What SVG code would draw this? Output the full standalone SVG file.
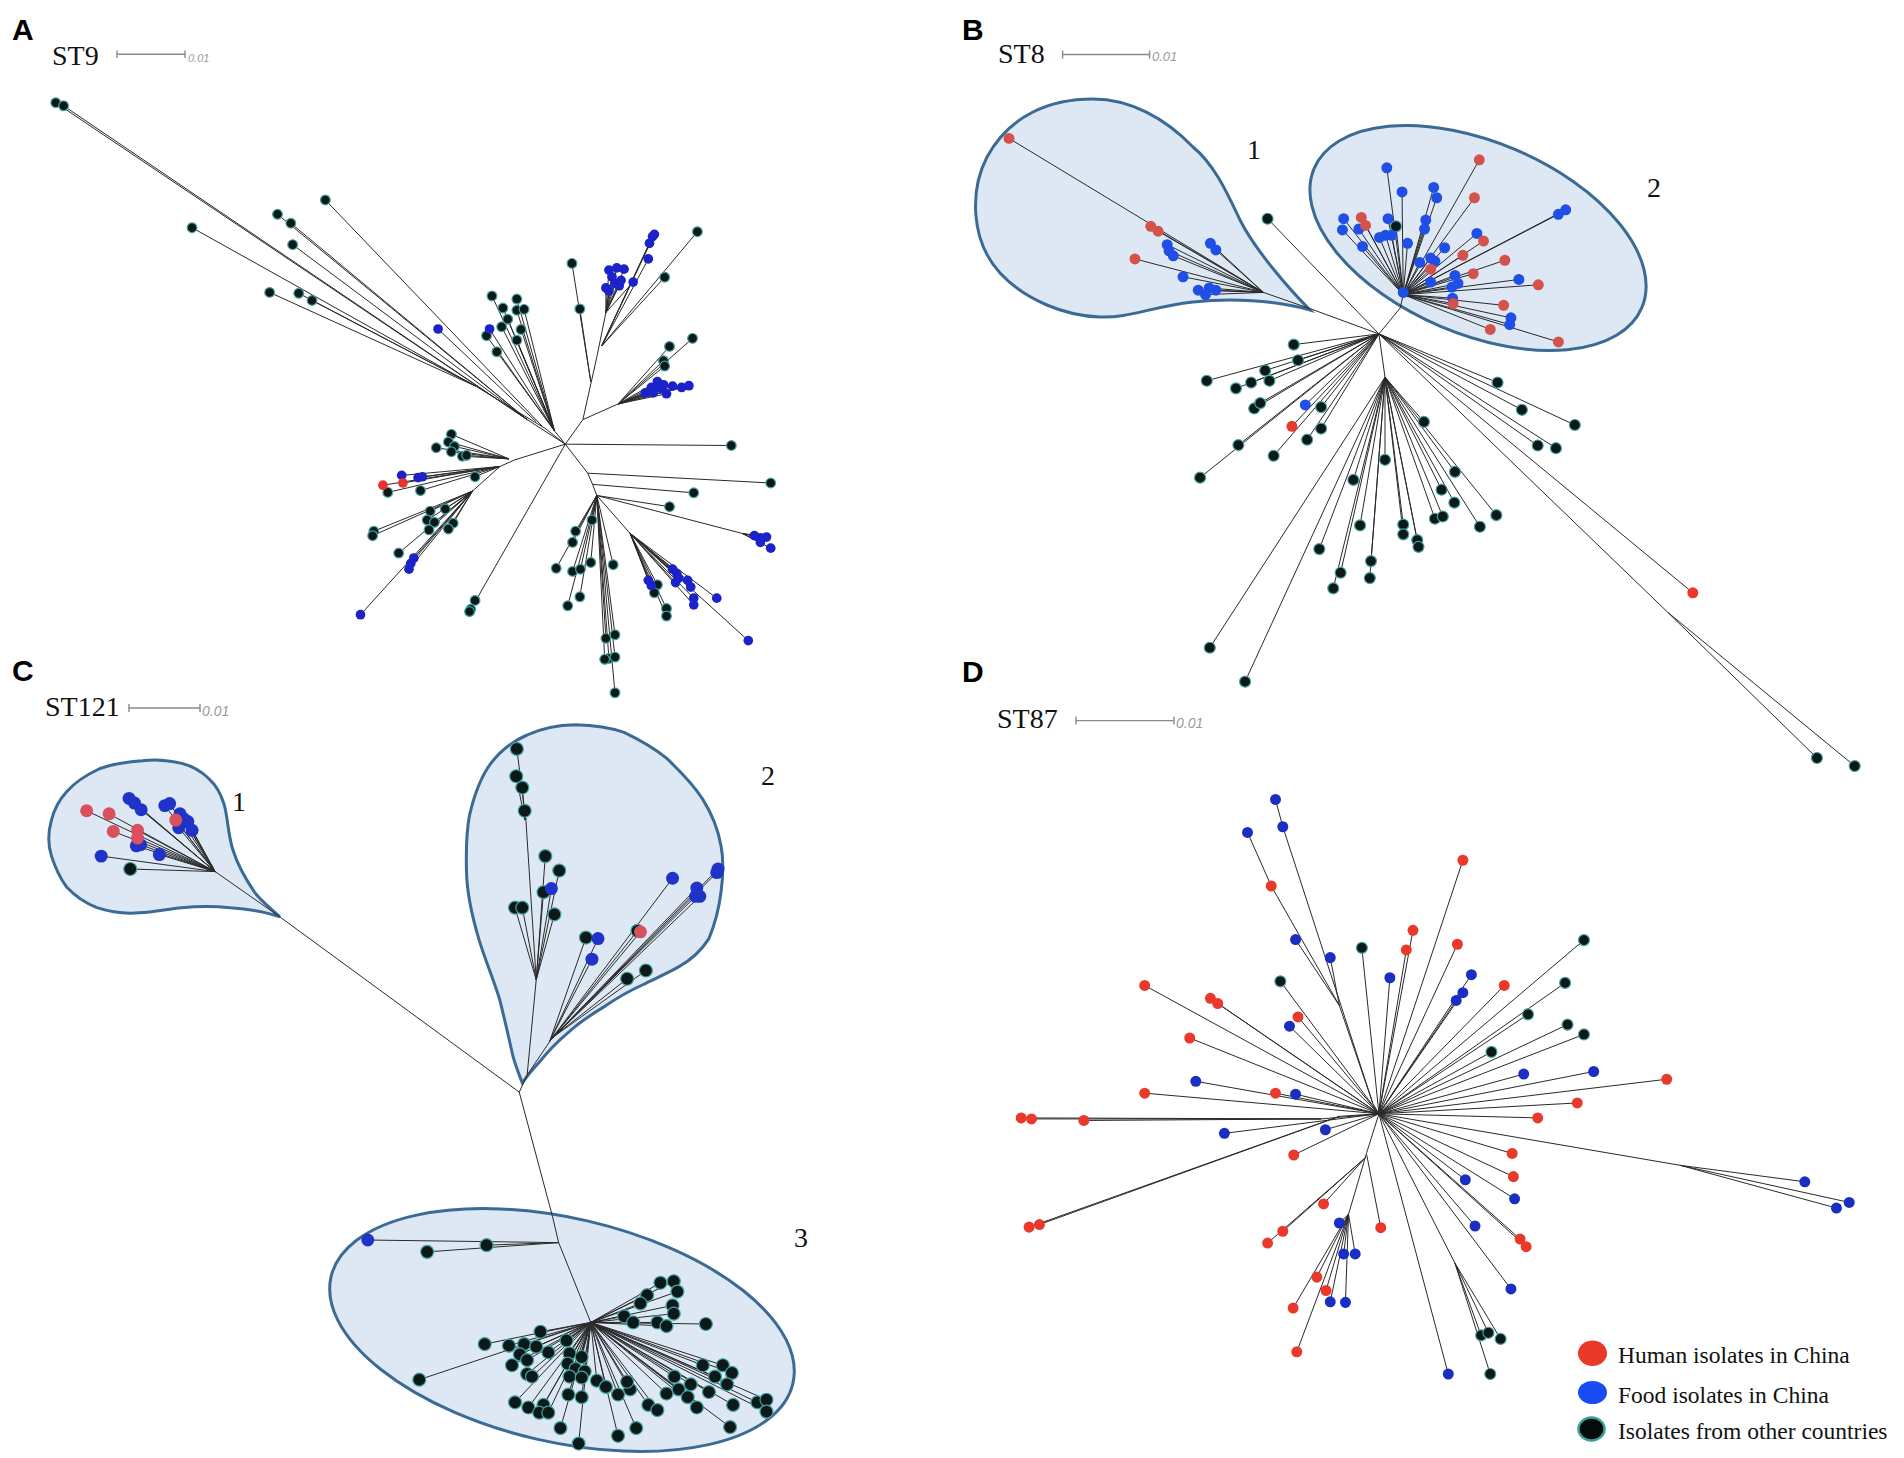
<svg xmlns="http://www.w3.org/2000/svg" width="1904" height="1458" viewBox="0 0 1904 1458">
<style>
.ln{fill:none;stroke:#2a2a2a;stroke-width:1;vector-effect:non-scaling-stroke}
.tr ellipse{vector-effect:non-scaling-stroke}
.k{fill:#0c1918;stroke:#45a3a0;stroke-width:1.2}
.bA{fill:#1b22c9}
.bB{fill:#1f4fe6}
.bC{fill:#1f33c9}
.bD{fill:#1a2ec4}
.rA{fill:#e8322a}
.rm{fill:#d4524c}
.rC{fill:#d9505f}
.rD{fill:#e8392a}
#tA ellipse{rx:8px;ry:10.9px}
#tB ellipse{rx:9px;ry:12.3px}
#tC ellipse{rx:10.7px;ry:12.6px}
#tD ellipse{rx:9px;ry:10.7px}
.pl{font-family:"Liberation Sans",Arial,sans-serif;font-weight:bold;font-size:30px;fill:#000}
.st{font-family:"Liberation Serif","Times New Roman",serif;font-size:28px;fill:#111}
.num{font-family:"Liberation Serif","Times New Roman",serif;font-size:28px;fill:#111}
.sc{fill:none;stroke:#8a8a8a;stroke-width:1.4}
.sct{font-family:"Liberation Sans",Arial,sans-serif;font-style:italic;font-size:13px;fill:#9a9a9a}
.cl{fill:#dde8f4;stroke:#3b6a94;stroke-width:3}
.lg{font-family:"Liberation Serif","Times New Roman",serif;font-size:23.5px;fill:#111}
</style>
<rect width="1904" height="1458" fill="#fff"/>

<!-- Panel A -->
<g id="panelA">
<text class="pl" x="12" y="40">A</text>
<text class="st" x="52" y="65">ST9</text>
<path class="sc" d="M117 54.3H185M117 50.5V58M185 50.5V58"/>
<text class="sct" x="188" y="61.5" style="font-size:11px">0.01</text>
<g id="tA" class="tr" transform="scale(0.6059 0.4464)">
<path class="ln" d="M92 230L870 940M105 237L870 940M458 480L870 940M480 500L870 940M483 548L870 940M870 940L933 995
M317 510L785 865M445 655L785 865M493 657L785 865M515 673L785 865M785 865L900 960L933 995
M537 448L895 955M723 737L885 945
M812 663L915 965M853 670L915 965M830 690L915 965M853 695L915 965M865 693L915 965M838 715L915 965M828 732L915 965M860 738L915 965M808 737L915 965M803 752L915 965M853 762L915 965M820 788L915 965M915 965L933 995
M933 995L962 940L985 800L1000 700M944 590L975 855M957 692L975 855
M1005 605L1000 700M1018 600L1000 700M1030 603L1000 700M1010 620L1000 700M1025 628L1000 700M1015 635L1000 700M1045 632L1000 700M1000 645L1000 700M1005 652L1000 700M1022 640L1000 700
M1070 580L993 775M1072 545L993 775M1077 530L993 775M1080 525L993 775M1151 519L993 775M1097 621L993 775
M962 940L1020 905M1143 758L1020 905M1105 776L1020 905M1095 808L1020 905M1097 820L1020 905M1065 880L1020 905M1075 868L1020 905M1085 855L1020 905M1090 870L1020 905M1100 882L1020 905M1110 865L1020 905M1125 868L1020 905M1137 864L1020 905M1078 880L1020 905M1095 862L1020 905
M933 995L1207 998M933 995L970 1060L1272 1082M970 1060L978 1085L1145 1104M978 1085L985 1110L1105 1135M985 1110L1225 1195M1245 1200L1225 1195M1255 1205L1225 1195M1265 1203L1225 1195M1255 1215L1225 1195M1272 1228L1225 1195
M950 1190L985 1110M945 1215L985 1110M977 1165L985 1110M918 1273L985 1110M945 1280L985 1110M958 1275L985 1110M975 1260L985 1110M1012 1265L985 1110M957 1337L985 1110M937 1357L985 1110M1000 1430L985 1110M1015 1422L985 1110M1005 1475L985 1110M1015 1472L985 1110M998 1477L985 1110M1015 1552L985 1110
M985 1110L1040 1195M1070 1300L1040 1195M1075 1312L1040 1195M1110 1275L1040 1195M1117 1285L1040 1195M1120 1295L1040 1195M1115 1305L1040 1195M1135 1300L1040 1195M1140 1315L1040 1195M1145 1340L1040 1195M1145 1355L1040 1195M1183 1340L1040 1195M1235 1435L1040 1195M1085 1310L1040 1195M1080 1328L1040 1195M1100 1363L1040 1195M1100 1380L1040 1195
M933 995L850 1030M745 973L840 1028M740 990L840 1028M750 1000L840 1028M720 1003L840 1028M745 1012L840 1028M763 1022L840 1028M770 1020L840 1028
M850 1030L825 1045M663 1065L825 1045M690 1070L825 1045M697 1068L825 1045M632 1087L825 1045M665 1082L825 1045M640 1103L825 1045M694 1099L825 1045M784 1068L825 1045
M825 1045L780 1100M710 1145L780 1100M735 1140L780 1100M705 1165L780 1100M717 1170L780 1100M708 1187L780 1100M748 1172L780 1100M740 1185L780 1100M617 1190L780 1100M615 1200L780 1100M658 1239L780 1100M683 1250L780 1100M678 1262L780 1100M675 1275L780 1100M595 1377L780 1100
M933 995L780 1358M784 1345L780 1358M777 1365L780 1358M775 1370L780 1358"/>
<g class="k">
<ellipse cx="92" cy="230"/><ellipse cx="105" cy="237"/><ellipse cx="317" cy="510"/><ellipse cx="458" cy="480"/><ellipse cx="480" cy="500"/><ellipse cx="483" cy="548"/><ellipse cx="445" cy="655"/><ellipse cx="493" cy="657"/><ellipse cx="515" cy="673"/><ellipse cx="537" cy="448"/>
<ellipse cx="812" cy="663"/><ellipse cx="853" cy="670"/><ellipse cx="830" cy="690"/><ellipse cx="853" cy="695"/><ellipse cx="865" cy="693"/><ellipse cx="838" cy="715"/><ellipse cx="828" cy="732"/><ellipse cx="860" cy="738"/><ellipse cx="803" cy="752"/><ellipse cx="853" cy="762"/><ellipse cx="820" cy="788"/>
<ellipse cx="944" cy="590"/><ellipse cx="957" cy="692"/><ellipse cx="1151" cy="519"/><ellipse cx="1097" cy="621"/>
<ellipse cx="1143" cy="758"/><ellipse cx="1105" cy="776"/><ellipse cx="1095" cy="808"/><ellipse cx="1097" cy="820"/>
<ellipse cx="1207" cy="998"/><ellipse cx="1272" cy="1082"/><ellipse cx="1145" cy="1104"/><ellipse cx="1105" cy="1135"/>
<ellipse cx="950" cy="1190"/><ellipse cx="945" cy="1215"/><ellipse cx="977" cy="1165"/><ellipse cx="918" cy="1273"/><ellipse cx="945" cy="1280"/><ellipse cx="958" cy="1275"/><ellipse cx="975" cy="1260"/><ellipse cx="1012" cy="1265"/><ellipse cx="957" cy="1337"/><ellipse cx="937" cy="1357"/><ellipse cx="1000" cy="1430"/><ellipse cx="1015" cy="1422"/><ellipse cx="1005" cy="1475"/><ellipse cx="1015" cy="1472"/><ellipse cx="998" cy="1477"/><ellipse cx="1015" cy="1552"/>
<ellipse cx="1085" cy="1310"/><ellipse cx="1080" cy="1328"/><ellipse cx="1100" cy="1363"/><ellipse cx="1100" cy="1380"/>
<ellipse cx="745" cy="973"/><ellipse cx="740" cy="990"/><ellipse cx="750" cy="1000"/><ellipse cx="720" cy="1003"/><ellipse cx="745" cy="1012"/><ellipse cx="763" cy="1022"/><ellipse cx="770" cy="1020"/>
<ellipse cx="640" cy="1103"/><ellipse cx="694" cy="1099"/><ellipse cx="784" cy="1068"/>
<ellipse cx="710" cy="1145"/><ellipse cx="735" cy="1140"/><ellipse cx="705" cy="1165"/><ellipse cx="717" cy="1170"/><ellipse cx="708" cy="1187"/><ellipse cx="748" cy="1172"/><ellipse cx="740" cy="1185"/><ellipse cx="617" cy="1190"/><ellipse cx="615" cy="1200"/><ellipse cx="658" cy="1239"/>
<ellipse cx="784" cy="1345"/><ellipse cx="777" cy="1365"/><ellipse cx="775" cy="1370"/>
</g>
<g class="bA">
<ellipse cx="723" cy="737"/><ellipse cx="808" cy="737"/>
<ellipse cx="1070" cy="580"/><ellipse cx="1072" cy="545"/><ellipse cx="1077" cy="530"/><ellipse cx="1080" cy="525"/><ellipse cx="1005" cy="605"/><ellipse cx="1018" cy="600"/><ellipse cx="1030" cy="603"/><ellipse cx="1010" cy="620"/><ellipse cx="1025" cy="628"/><ellipse cx="1015" cy="635"/><ellipse cx="1045" cy="632"/><ellipse cx="1000" cy="645"/><ellipse cx="1005" cy="652"/><ellipse cx="1022" cy="640"/>
<ellipse cx="1065" cy="880"/><ellipse cx="1075" cy="868"/><ellipse cx="1085" cy="855"/><ellipse cx="1090" cy="870"/><ellipse cx="1100" cy="882"/><ellipse cx="1110" cy="865"/><ellipse cx="1125" cy="868"/><ellipse cx="1137" cy="864"/><ellipse cx="1078" cy="880"/><ellipse cx="1095" cy="862"/>
<ellipse cx="1245" cy="1200"/><ellipse cx="1255" cy="1205"/><ellipse cx="1265" cy="1203"/><ellipse cx="1255" cy="1215"/><ellipse cx="1272" cy="1228"/>
<ellipse cx="1070" cy="1300"/><ellipse cx="1075" cy="1312"/><ellipse cx="1110" cy="1275"/><ellipse cx="1117" cy="1285"/><ellipse cx="1120" cy="1295"/><ellipse cx="1115" cy="1305"/><ellipse cx="1135" cy="1300"/><ellipse cx="1140" cy="1315"/><ellipse cx="1145" cy="1340"/><ellipse cx="1145" cy="1355"/><ellipse cx="1183" cy="1340"/><ellipse cx="1235" cy="1435"/>
<ellipse cx="663" cy="1065"/><ellipse cx="690" cy="1070"/><ellipse cx="697" cy="1068"/>
<ellipse cx="683" cy="1250"/><ellipse cx="678" cy="1262"/><ellipse cx="675" cy="1275"/><ellipse cx="595" cy="1377"/>
</g>
<g class="rA"><ellipse cx="632" cy="1087"/><ellipse cx="665" cy="1082"/></g>
</g>
</g>

<!-- Panel B -->
<g id="panelB">
<text class="pl" x="962" y="40">B</text>
<text class="st" x="998" y="62.5">ST8</text>
<path class="sc" d="M1062.6 54.5H1149.6M1062.6 50.5V58.5M1149.6 50.5V58.5"/>
<text class="sct" x="1152" y="61">0.01</text>
<path id="B-cluster1" class="cl" d="M1310 310C1290 290 1255 250 1240 220C1228 195 1215 165 1193 147C1165 118 1130 99 1093 99C1050 99 1010 115 987 157C970 190 970 240 1000 273C1025 300 1065 316 1100 317C1130 318 1150 307 1193 302C1230 298 1275 300 1310 310Z"/>
<ellipse id="B-cluster2" class="cl" cx="1478" cy="238" rx="178" ry="96" transform="rotate(23 1478 238)"/>
<text class="num" x="1247" y="158.5">1</text>
<text class="num" x="1647" y="196.5">2</text>
<g id="tB" class="tr" transform="translate(950 0) scale(0.6084 0.4464)">
<path class="ln" d="M705 748L595 693L515 655M97 310L515 655M330 507L515 655M342 518L515 655M304 580L515 655M357 548L515 655M360 562L515 655M367 573L515 655M428 545L515 655M437 560L515 655M383 620L515 655M408 650L515 655M420 660L515 655M437 650L515 655M426 645L515 655
M522 490L705 748
M705 748L740 690L745 660M718 376L745 660M743 430L745 660M795 420L745 660M800 443L745 660M647 490L745 660M720 490L745 660M645 515L745 660M672 513L745 660M706 532L745 660M716 527L745 660M726 527L745 660M752 545L745 660M678 552L745 660M782 493L745 660M780 513L745 660M813 555L745 660M1000 480L745 660M1012 470L745 660M772 588L745 660M790 578L745 660M797 585L745 660M790 632L745 660M830 617L745 660M835 635L745 660M825 643L745 660M826 668L745 660M935 626L745 660M922 712L745 660M920 727L745 660M866 523L745 660M870 358L745 660M862 443L745 660M676 487L745 660M683 505L745 660M877 540L745 660M843 572L745 660M912 583L745 660M860 613L745 660M967 638L745 660M910 684L745 660M888 738L745 660M1000 766L745 660M827 680L745 660M790 603L745 660M733 507L745 660
M565 772L705 748M572 807L705 748M518 830L705 748M422 853L705 748M470 870L705 748M495 857L705 748M525 853L705 748M500 915L705 748M510 903L705 748M610 912L705 748M584 907L705 748M610 960L705 748M562 955L705 748M587 985L705 748M474 997L705 748M532 1021L705 748M411 1070L705 748
M900 857L705 748M940 918L705 748M1027 952L705 748M966 998L705 748M996 1004L705 748
M705 748L715 845M779 945L715 845M715 1030L715 845M663 1075L715 845M830 1057L715 845M808 1097L715 845M829 1126L715 845M898 1154L715 845M871 1180L715 845M797 1162L715 845M810 1157L715 845M745 1175L715 845M745 1197L715 845M768 1210L715 845M770 1225L715 845M674 1177L715 845M607 1230L715 845M692 1257L715 845M642 1283L715 845M690 1295L715 845M630 1318L715 845M427 1451L715 845M485 1527L715 845
M1221 1328L705 748M1425 1698L1180 1372L705 748M1487 1716L1180 1372"/>
<g class="k">
<ellipse cx="522" cy="490"/><ellipse cx="733" cy="507"/>
<ellipse cx="565" cy="772"/><ellipse cx="572" cy="807"/><ellipse cx="518" cy="830"/><ellipse cx="422" cy="853"/><ellipse cx="470" cy="870"/><ellipse cx="495" cy="857"/><ellipse cx="525" cy="853"/><ellipse cx="500" cy="915"/><ellipse cx="510" cy="903"/><ellipse cx="610" cy="912"/><ellipse cx="610" cy="960"/><ellipse cx="587" cy="985"/><ellipse cx="474" cy="997"/><ellipse cx="532" cy="1021"/><ellipse cx="411" cy="1070"/>
<ellipse cx="900" cy="857"/><ellipse cx="940" cy="918"/><ellipse cx="1027" cy="952"/><ellipse cx="966" cy="998"/><ellipse cx="996" cy="1004"/>
<ellipse cx="779" cy="945"/><ellipse cx="715" cy="1030"/><ellipse cx="663" cy="1075"/><ellipse cx="830" cy="1057"/><ellipse cx="808" cy="1097"/><ellipse cx="829" cy="1126"/><ellipse cx="898" cy="1154"/><ellipse cx="871" cy="1180"/><ellipse cx="797" cy="1162"/><ellipse cx="810" cy="1157"/><ellipse cx="745" cy="1175"/><ellipse cx="745" cy="1197"/><ellipse cx="768" cy="1210"/><ellipse cx="770" cy="1225"/><ellipse cx="674" cy="1177"/><ellipse cx="607" cy="1230"/><ellipse cx="692" cy="1257"/><ellipse cx="642" cy="1283"/><ellipse cx="690" cy="1295"/><ellipse cx="630" cy="1318"/><ellipse cx="427" cy="1451"/><ellipse cx="485" cy="1527"/><ellipse cx="1425" cy="1698"/><ellipse cx="1487" cy="1716"/>
</g>
<g class="bB">
<ellipse cx="357" cy="548"/><ellipse cx="360" cy="562"/><ellipse cx="367" cy="573"/><ellipse cx="428" cy="545"/><ellipse cx="437" cy="560"/><ellipse cx="383" cy="620"/><ellipse cx="408" cy="650"/><ellipse cx="420" cy="660"/><ellipse cx="437" cy="650"/><ellipse cx="426" cy="645"/>
<ellipse cx="718" cy="376"/><ellipse cx="743" cy="430"/><ellipse cx="795" cy="420"/><ellipse cx="800" cy="443"/><ellipse cx="647" cy="490"/><ellipse cx="720" cy="490"/><ellipse cx="645" cy="515"/><ellipse cx="672" cy="513"/><ellipse cx="706" cy="532"/><ellipse cx="716" cy="527"/><ellipse cx="726" cy="527"/><ellipse cx="752" cy="545"/><ellipse cx="678" cy="552"/><ellipse cx="782" cy="493"/><ellipse cx="780" cy="513"/><ellipse cx="813" cy="555"/><ellipse cx="1000" cy="480"/><ellipse cx="1012" cy="470"/><ellipse cx="772" cy="588"/><ellipse cx="790" cy="578"/><ellipse cx="797" cy="585"/><ellipse cx="790" cy="632"/><ellipse cx="830" cy="617"/><ellipse cx="835" cy="635"/><ellipse cx="825" cy="643"/><ellipse cx="826" cy="668"/><ellipse cx="935" cy="626"/><ellipse cx="922" cy="712"/><ellipse cx="920" cy="727"/><ellipse cx="745" cy="655"/><ellipse cx="866" cy="523"/>
<ellipse cx="584" cy="907"/>
</g>
<g class="rm">
<ellipse cx="97" cy="310"/><ellipse cx="330" cy="507"/><ellipse cx="342" cy="518"/><ellipse cx="304" cy="580"/>
<ellipse cx="870" cy="358"/><ellipse cx="862" cy="443"/><ellipse cx="676" cy="487"/><ellipse cx="683" cy="505"/><ellipse cx="877" cy="540"/><ellipse cx="843" cy="572"/><ellipse cx="912" cy="583"/><ellipse cx="860" cy="613"/><ellipse cx="967" cy="638"/><ellipse cx="910" cy="684"/><ellipse cx="888" cy="738"/><ellipse cx="1000" cy="766"/><ellipse cx="827" cy="680"/><ellipse cx="790" cy="603"/>
</g>
<g class="rD"><ellipse cx="562" cy="955"/><ellipse cx="1221" cy="1328"/></g>
</g>
</g>

<!-- Panel C -->
<g id="panelC">
<text class="pl" x="12" y="681">C</text>
<text class="st" x="45" y="715.5">ST121</text>
<path class="sc" d="M129 708H200M129 704V712M200 704V712"/>
<text class="sct" x="202" y="716" style="font-size:14px">0.01</text>
<path id="C-cluster1" class="cl" d="M279.9 916.9C268 906 260 900 254.5 892.2C245 878 238 866 233.3 851C228 836 228 818 224.2 804.6C221 794 216 785 209 778.8C200 770 192 766 181.8 763.4C168 760 155 759 142.4 760.8C127 762 112 764 100 768.5C86 775 75 782 66.6 791.7C58 801 54 810 51.5 820C48 832 48 845 51.5 856.1C55 867 60 878 66.6 887C75 896 85 903 97 907.7C110 912 125 914 139.4 912.8C154 912 168 909 181.8 907.7C198 906 214 906 230.2 907.7C248 909 264 911 279.9 916.9Z"/>
<path id="C-cluster2" class="cl" d="M522.3 1082.9C518 1072 514 1062 512 1052C508 1034 504 1017 499.9 1000.4C494 980 485 960 478.7 938.6C472 916 467 894 466.5 871.6C466 852 466 833 469.6 814.9C474 796 480 778 490.8 763.4C501 750 513 741 527.1 735C542 728 559 725 575.6 724.7C592 725 609 727 624.1 732.4C640 740 654 748 666.5 758.2C680 771 693 784 702.8 799.4C712 814 718 829 721 845.8C724 861 723 877 721 892.2C719 908 715 924 708.9 938.6C701 951 691 960 678.6 966.9C666 974 654 979 642.3 985C629 991 617 998 605.9 1005.6C592 1014 580 1022 569.5 1031.3C558 1041 548 1051 539.3 1062.2C532 1070 527 1076 522.3 1082.9Z"/>
<ellipse id="C-cluster3" class="cl" cx="562" cy="1330" rx="237" ry="112" transform="rotate(13 562 1330)"/>
<text class="num" x="232" y="811">1</text>
<text class="num" x="761" y="785">2</text>
<text class="num" x="794" y="1247">3</text>
<g id="tC" class="tr" transform="translate(0 650) scale(0.6059 0.5153)">
<path class="ln" d="M857 858L462 518L355 430M143 312L355 430M180 318L355 430M187 352L355 430M227 350L355 430M227 365L355 430M290 330L355 430M213 288L355 430M222 297L355 430M233 310L355 430M272 302L355 430M280 298L355 430M297 318L355 430M303 327L355 430M310 333L355 430M317 350L355 430M295 345L355 430M167 400L355 430M225 380L355 430M232 378L355 430M263 397L355 430M215 425L355 430
M857 858L870 825L885 640L868 330L853 192M852 245L866 330M862 267L866 330M866 312L868 330
M900 400L885 640M923 428L885 640M910 463L885 640M897 470L885 640M850 500L885 640M862 500L885 640M915 513L885 640
M870 825L910 755M967 558L907 760M987 560L907 760M977 600L907 760M1057 547L910 755M1052 545L910 755M1110 443L910 755M1150 462L910 755M1155 478L910 755M1148 478L910 755M1185 425L910 755M1183 432L910 755M1035 638L912 752M1066 622L912 752
M857 858L912 1100L922 1150L975 1305M607 1145L922 1150M803 1155L922 1150M705 1168L922 1150
M1090 1228L975 1305M1112 1225L975 1305M1118 1245L975 1305M1068 1252L975 1305M1057 1268L975 1305M1110 1272L975 1305M1112 1288L975 1305M1030 1293L975 1305M1045 1305L975 1305M1085 1305L975 1305M1100 1312L975 1305M1165 1308L975 1305M892 1323L975 1305M800 1347L975 1305M840 1350L975 1305M865 1347L975 1305M885 1352L975 1305M905 1363L975 1305M935 1340L975 1305M940 1365L975 1305M960 1372L975 1305M858 1367L975 1305M845 1388L975 1305M870 1378L975 1305M937 1385L975 1305M950 1395L975 1305M965 1400L975 1305M870 1405L975 1305M878 1410L975 1305M940 1410L975 1305M960 1412L975 1305M985 1418L975 1305M692 1416L975 1305M1160 1388L975 1305M1193 1388L975 1305M1208 1403L975 1305M1180 1410L975 1305M1113 1410L975 1305M1140 1425L975 1305M1120 1435L975 1305M1170 1440L975 1305M1200 1425L975 1305M1100 1443L975 1305M1135 1450L975 1305M1150 1470L975 1305M1210 1465L975 1305M1250 1460L975 1305M1265 1455L975 1305M1265 1478L975 1305M1205 1508L975 1305M1040 1435L975 1305M1020 1445L975 1305M1070 1465L975 1305M1085 1475L975 1305M1050 1510L975 1305M1020 1525L975 1305M960 1450L975 1305M938 1445L975 1305M925 1510L975 1305M955 1540L975 1305M850 1460L975 1305M872 1470L975 1305M897 1465L975 1305M890 1480L975 1305M905 1480L975 1305M1000 1430L975 1305M1035 1420L975 1305"/>
<g class="k">
<ellipse cx="215" cy="425"/>
<ellipse cx="853" cy="192"/><ellipse cx="852" cy="245"/><ellipse cx="862" cy="267"/><ellipse cx="866" cy="312"/><ellipse cx="900" cy="400"/><ellipse cx="923" cy="428"/><ellipse cx="897" cy="470"/><ellipse cx="850" cy="500"/><ellipse cx="862" cy="500"/><ellipse cx="915" cy="513"/><ellipse cx="967" cy="558"/><ellipse cx="1035" cy="638"/><ellipse cx="1066" cy="622"/><ellipse cx="1052" cy="545"/>
<ellipse cx="803" cy="1155"/><ellipse cx="705" cy="1168"/>
<ellipse cx="1090" cy="1228"/><ellipse cx="1112" cy="1225"/><ellipse cx="1118" cy="1245"/><ellipse cx="1068" cy="1252"/><ellipse cx="1057" cy="1268"/><ellipse cx="1110" cy="1272"/><ellipse cx="1112" cy="1288"/><ellipse cx="1030" cy="1293"/><ellipse cx="1045" cy="1305"/><ellipse cx="1085" cy="1305"/><ellipse cx="1100" cy="1312"/><ellipse cx="1165" cy="1308"/><ellipse cx="892" cy="1323"/><ellipse cx="800" cy="1347"/><ellipse cx="840" cy="1350"/><ellipse cx="865" cy="1347"/><ellipse cx="885" cy="1352"/><ellipse cx="905" cy="1363"/><ellipse cx="935" cy="1340"/><ellipse cx="940" cy="1365"/><ellipse cx="960" cy="1372"/><ellipse cx="858" cy="1367"/><ellipse cx="845" cy="1388"/><ellipse cx="870" cy="1378"/><ellipse cx="937" cy="1385"/><ellipse cx="950" cy="1395"/><ellipse cx="965" cy="1400"/><ellipse cx="870" cy="1405"/><ellipse cx="878" cy="1410"/><ellipse cx="940" cy="1410"/><ellipse cx="960" cy="1412"/><ellipse cx="985" cy="1418"/><ellipse cx="692" cy="1416"/><ellipse cx="1160" cy="1388"/><ellipse cx="1193" cy="1388"/><ellipse cx="1208" cy="1403"/><ellipse cx="1180" cy="1410"/><ellipse cx="1113" cy="1410"/><ellipse cx="1140" cy="1425"/><ellipse cx="1120" cy="1435"/><ellipse cx="1170" cy="1440"/><ellipse cx="1200" cy="1425"/><ellipse cx="1100" cy="1443"/><ellipse cx="1135" cy="1450"/><ellipse cx="1150" cy="1470"/><ellipse cx="1210" cy="1465"/><ellipse cx="1250" cy="1460"/><ellipse cx="1265" cy="1455"/><ellipse cx="1265" cy="1478"/><ellipse cx="1205" cy="1508"/><ellipse cx="1040" cy="1435"/><ellipse cx="1020" cy="1445"/><ellipse cx="1070" cy="1465"/><ellipse cx="1085" cy="1475"/><ellipse cx="1050" cy="1510"/><ellipse cx="1020" cy="1525"/><ellipse cx="960" cy="1450"/><ellipse cx="938" cy="1445"/><ellipse cx="925" cy="1510"/><ellipse cx="955" cy="1540"/><ellipse cx="850" cy="1460"/><ellipse cx="872" cy="1470"/><ellipse cx="897" cy="1465"/><ellipse cx="890" cy="1480"/><ellipse cx="905" cy="1480"/><ellipse cx="1000" cy="1430"/><ellipse cx="1035" cy="1420"/>
</g>
<g class="bC">
<ellipse cx="213" cy="288"/><ellipse cx="222" cy="297"/><ellipse cx="233" cy="310"/><ellipse cx="272" cy="302"/><ellipse cx="280" cy="298"/><ellipse cx="297" cy="318"/><ellipse cx="303" cy="327"/><ellipse cx="310" cy="333"/><ellipse cx="317" cy="350"/><ellipse cx="295" cy="345"/><ellipse cx="167" cy="400"/><ellipse cx="225" cy="380"/><ellipse cx="232" cy="378"/><ellipse cx="263" cy="397"/>
<ellipse cx="910" cy="463"/><ellipse cx="987" cy="560"/><ellipse cx="977" cy="600"/><ellipse cx="1110" cy="443"/><ellipse cx="1150" cy="462"/><ellipse cx="1155" cy="478"/><ellipse cx="1148" cy="478"/><ellipse cx="1185" cy="425"/><ellipse cx="1183" cy="432"/>
<ellipse cx="607" cy="1145"/>
</g>
<g class="rC">
<ellipse cx="143" cy="312"/><ellipse cx="180" cy="318"/><ellipse cx="187" cy="352"/><ellipse cx="227" cy="350"/><ellipse cx="227" cy="365"/><ellipse cx="290" cy="330"/><ellipse cx="1057" cy="547"/>
</g>
</g>
</g>

<!-- Panel D -->
<g id="panelD">
<text class="pl" x="962" y="682">D</text>
<text class="st" x="997" y="728">ST87</text>
<path class="sc" d="M1076 720.6H1174M1076 716.6V724.6M1174 716.6V724.6"/>
<text class="sct" x="1176" y="728" style="font-size:14px">0.01</text>
<g id="tD" class="tr" transform="translate(950 650) scale(0.6084 0.5153)">
<path class="ln" d="M535 290L547 343L695 880L705 900M489 354L528 458L640 690L695 880M568 562L640 690M625 597L640 690
M843 408L705 900M761 544L705 900M750 582L705 900M834 571L705 900M677 578L705 900M723 636L705 900M857 630L705 900M843 665L705 900M832 680L705 900M911 651L705 900M1042 563L705 900M1011 646L705 900M950 707L705 900M1015 727L705 900M1042 746L705 900M890 780L705 900M943 823L705 900M1058 818L705 900M1178 833L705 900M1031 879L705 900M966 908L705 900
M320 651L705 900M428 676L705 900M440 686L705 900M394 753L705 900M543 643L705 900M572 712L705 900M558 730L705 900M404 837L705 900M320 860L705 900M535 860L705 900M568 862L705 900M451 938L705 900M617 931L705 900M565 980L705 900
M117 908L610 910L705 900M134 910L610 910M220 913L610 910M130 1120L640 905L705 900M147 1115L640 905
M705 900L685 975M614 1075L683 985M547 1128L683 985M522 1151L683 985M708 1121L685 980M685 975L655 1095M640 1112L655 1095M647 1172L655 1095M666 1172L655 1095M625 1265L655 1095M650 1266L655 1095M603 1217L655 1095M618 1243L655 1095M564 1277L655 1095M570 1362L655 1095
M924 977L705 900M926 1022L705 900M847 1028L705 900M928 1065L705 900M863 1118L705 900M937 1143L705 900M947 1158L705 900M922 1240L705 900M819 1405L705 900
M873 1330L830 1190L705 900M885 1325L830 1190M905 1337L830 1190M888 1405L830 1190
M1405 1032L1200 1000L705 900M1478 1072L1200 1000M1457 1083L1200 1000"/>
<g class="k">
<ellipse cx="677" cy="578"/><ellipse cx="1042" cy="563"/><ellipse cx="1011" cy="646"/><ellipse cx="950" cy="707"/><ellipse cx="1015" cy="727"/><ellipse cx="1042" cy="746"/><ellipse cx="890" cy="780"/><ellipse cx="543" cy="643"/><ellipse cx="873" cy="1330"/><ellipse cx="885" cy="1325"/><ellipse cx="905" cy="1337"/><ellipse cx="888" cy="1405"/>
</g>
<g class="bD">
<ellipse cx="535" cy="290"/><ellipse cx="547" cy="343"/><ellipse cx="489" cy="354"/><ellipse cx="568" cy="562"/><ellipse cx="625" cy="597"/><ellipse cx="723" cy="636"/><ellipse cx="857" cy="630"/><ellipse cx="843" cy="665"/><ellipse cx="832" cy="680"/><ellipse cx="943" cy="823"/><ellipse cx="1058" cy="818"/><ellipse cx="558" cy="730"/><ellipse cx="404" cy="837"/><ellipse cx="568" cy="862"/><ellipse cx="451" cy="938"/><ellipse cx="617" cy="931"/><ellipse cx="640" cy="1112"/><ellipse cx="647" cy="1172"/><ellipse cx="666" cy="1172"/><ellipse cx="625" cy="1265"/><ellipse cx="650" cy="1266"/><ellipse cx="847" cy="1028"/><ellipse cx="928" cy="1065"/><ellipse cx="863" cy="1118"/><ellipse cx="922" cy="1240"/><ellipse cx="819" cy="1405"/><ellipse cx="1405" cy="1032"/><ellipse cx="1478" cy="1072"/><ellipse cx="1457" cy="1083"/>
</g>
<g class="rD">
<ellipse cx="528" cy="458"/><ellipse cx="843" cy="408"/><ellipse cx="761" cy="544"/><ellipse cx="750" cy="582"/><ellipse cx="834" cy="571"/><ellipse cx="911" cy="651"/><ellipse cx="1178" cy="833"/><ellipse cx="1031" cy="879"/><ellipse cx="966" cy="908"/><ellipse cx="320" cy="651"/><ellipse cx="428" cy="676"/><ellipse cx="440" cy="686"/><ellipse cx="394" cy="753"/><ellipse cx="572" cy="712"/><ellipse cx="320" cy="860"/><ellipse cx="535" cy="860"/><ellipse cx="117" cy="908"/><ellipse cx="134" cy="910"/><ellipse cx="220" cy="913"/><ellipse cx="565" cy="980"/><ellipse cx="130" cy="1120"/><ellipse cx="147" cy="1115"/><ellipse cx="614" cy="1075"/><ellipse cx="547" cy="1128"/><ellipse cx="522" cy="1151"/><ellipse cx="603" cy="1217"/><ellipse cx="618" cy="1243"/><ellipse cx="564" cy="1277"/><ellipse cx="570" cy="1362"/><ellipse cx="708" cy="1121"/><ellipse cx="924" cy="977"/><ellipse cx="926" cy="1022"/><ellipse cx="937" cy="1143"/><ellipse cx="947" cy="1158"/>
</g>
</g>
</g>

<!-- Legend -->
<g id="legend">
<ellipse cx="1592.5" cy="1353.3" rx="14.5" ry="12.8" fill="#e8392a"/>
<text class="lg" x="1618" y="1362.5">Human isolates in China</text>
<ellipse cx="1592.5" cy="1392.5" rx="14.5" ry="11.5" fill="#1a4cf5"/>
<text class="lg" x="1618" y="1402.5">Food isolates in China</text>
<ellipse cx="1591.5" cy="1429" rx="13" ry="11.5" fill="#050a0a" stroke="#3f9f9c" stroke-width="2.5"/>
<text class="lg" x="1618" y="1439">Isolates from other countries</text>
</g>
</svg>
